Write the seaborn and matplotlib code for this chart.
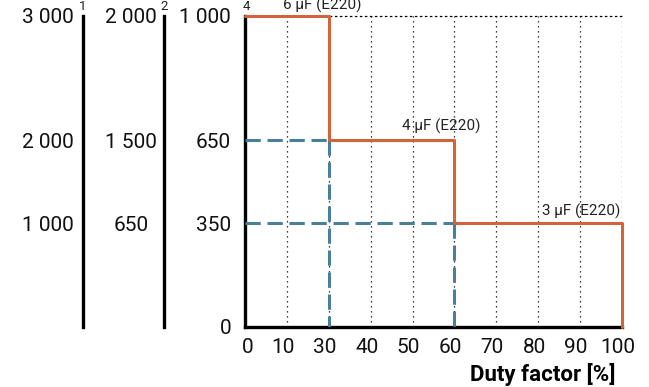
import numpy as np
import pandas as pd
import matplotlib.pyplot as plt
import matplotlib.transforms as mtransforms
import seaborn as sns

# --- data ---
duty = [0, 30, 60, 100]                 # step break points [%]
load = [1000, 650, 350, 0]              # main axis (4) values at each step
cap_labels = ['6 µF (E220)', '4 µF (E220)', '3 µF (E220)']
guide_duty = [30, 60]
guide_load = [650, 350]

x_ticks = [0, 10, 30, 40, 50, 60, 70, 80, 90, 100]
y_ticks = [0, 350, 650, 1000]
y_ticklabels_4 = ['0', '350', '650', '1 000']
y_ticklabels_2 = ['650', '1 500', '2 000']
y_ticklabels_1 = ['1 000', '2 000', '3 000']

# nomogram-style scales: the ticks are not linearly spaced
y_pos = [0, 0.334, 0.601, 1.0]
x_pos = np.arange(len(x_ticks))

ORANGE = '#d2643a'
BLUE = '#4a7f99'

sns.set_theme(style='white')
plt.rcParams['font.family'] = ['Roboto', 'DejaVu Sans']
plt.rcParams['font.weight'] = 'normal'
plt.rcParams['text.color'] = 'black'


def yfwd(v):
    return np.interp(v, y_ticks, y_pos)


def yinv(p):
    return np.interp(p, y_pos, y_ticks)


def xfwd(v):
    return np.interp(v, x_ticks, x_pos)


def xinv(p):
    return np.interp(p, x_pos, x_ticks)


fig = plt.figure(figsize=(6.49, 3.87), dpi=100)
rect = [245 / 649, 60 / 387, 377 / 649, 311 / 387]
ax = fig.add_axes(rect)
ax.set_xscale('function', functions=(xfwd, xinv))
ax.set_yscale('function', functions=(yfwd, yinv))
ax.set_xlim(0, 100)
ax.set_ylim(0, 1000)

# step line
df = pd.DataFrame({'duty': duty, 'load': load})
sns.lineplot(data=df, x='duty', y='load', drawstyle='steps-post', color=ORANGE,
             lw=2.2, sort=False, estimator=None, ax=ax, zorder=5, clip_on=False)

# dashed guides
for d, l in zip(guide_duty, guide_load):
    ax.plot([0, d], [l, l], color=BLUE, lw=2.2, ls=(0, (5, 2.2)), zorder=4)
    ax.plot([d, d], [l, 0], color=BLUE, lw=2.2, ls=(0, (5, 2.2)), zorder=4)

ax.set_xticks(x_ticks)
ax.set_xticklabels([str(t) for t in x_ticks])
ax.set_yticks(y_ticks)
ax.set_yticklabels(y_ticklabels_4)
ax.tick_params(axis='both', length=0, labelsize=15, colors='#111111')
ax.tick_params(axis='x', pad=8)
ax.tick_params(axis='y', pad=10)
for i, lab in enumerate(ax.get_xticklabels()):
    dx = 3 if i == 0 else -4
    lab.set_transform(lab.get_transform() +
                      mtransforms.ScaledTranslation(dx / 100, 0, fig.dpi_scale_trans))

ax.grid(False)
ax.xaxis.grid(True, color='black', ls=(0, (1, 3)), lw=0.9)
ax.spines['right'].set_visible(False)
ax.spines['top'].set_linestyle((0, (1, 3)))
ax.spines['top'].set_linewidth(0.9)
ax.spines['top'].set_color('black')
for s in ['left', 'bottom']:
    ax.spines[s].set_linewidth(2.4)
    ax.spines[s].set_color('black')
    ax.spines[s].set_capstyle('projecting')

ax.set_ylabel('')
ax.set_xlabel('Duty factor [%]', loc='right', fontsize=16, fontweight='bold', color='black')
ax.xaxis.set_label_coords(0.982, -0.115)

# step annotations
ann = dict(textcoords='offset pixels', va='baseline', fontsize=11,
           color='#222222', xycoords='axes fraction')
ax.annotate(cap_labels[0], xy=(0.204, 1.0), xytext=(0, 6), ha='center', **ann)
ax.annotate(cap_labels[1], xy=(0.52, yfwd(650)), xytext=(0, 9), ha='center', **ann)
ax.annotate(cap_labels[2], xy=(0.995, yfwd(350)), xytext=(0, 8), ha='right', **ann)

# extra scales on the left
for frac, labels, pad, ha in [(-0.4297, y_ticklabels_1, 7, 'right'),
                              (-0.2149, y_ticklabels_2, 23.5, 'center')]:
    a = fig.add_axes(rect)
    a.set_yscale('function', functions=(yfwd, yinv))
    a.set_ylim(0, 1000)
    a.patch.set_visible(False)
    a.grid(False)
    a.xaxis.set_visible(False)
    for s in ['right', 'top', 'bottom']:
        a.spines[s].set_visible(False)
    a.spines['left'].set_position(('axes', frac))
    a.spines['left'].set_linewidth(2.4)
    a.spines['left'].set_color('black')
    a.spines['left'].set_capstyle('projecting')
    a.set_yticks(y_ticks[1:])
    a.set_yticklabels(labels, ha=ha)
    a.tick_params(axis='y', length=0, labelsize=15, pad=pad, colors='#111111')

for xp, t in [(83, '1'), (164, '2'), (246, '4')]:
    fig.text(xp / 649, 1 - 6 / 387, t, ha='center', va='center', fontsize=9.5,
             color='#222222')

fig.savefig('out.png', dpi=100)
